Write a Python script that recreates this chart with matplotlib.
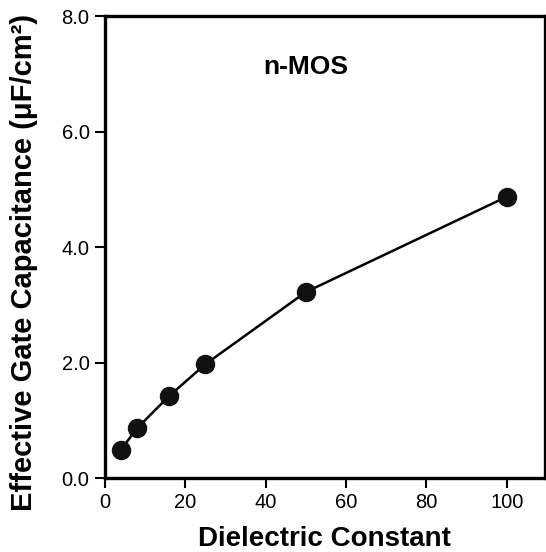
import matplotlib.pyplot as plt

# Dielectric constant vs effective gate capacitance (n-MOS)
dielectric_k = [4, 8, 16, 25, 50, 100]
capacitance = [0.49, 0.86, 1.42, 1.97, 3.22, 4.87]
x_ticks = [0, 20, 40, 60, 80, 100]
y_ticks = [0.0, 2.0, 4.0, 6.0, 8.0]

plt.rcParams['font.family'] = ['Liberation Sans', 'DejaVu Sans']

fig = plt.figure(figsize=(5.46, 5.52), dpi=100)
ax = fig.add_axes([0.192, 0.134, 0.806, 0.837])

ax.plot(dielectric_k, capacitance, color='black', linewidth=1.8,
        marker='o', markersize=13, markerfacecolor='#111111', markeredgecolor='#111111')

ax.set_xlim(0, 109.5)
ax.set_ylim(0, 8.0)
ax.set_xticks(x_ticks)
ax.set_xticklabels([str(t) for t in x_ticks])
ax.set_yticks(y_ticks)
ax.set_yticklabels([f"{t:.1f}" for t in y_ticks])

for s in ax.spines.values():
    s.set_linewidth(2.4)
ax.tick_params(axis='both', direction='out', length=7, width=1.5, labelsize=14.5, pad=4)

ax.set_xlabel("Dielectric Constant", fontsize=20, fontweight='bold', labelpad=10)
ax.set_ylabel("Effective Gate Capacitance (μF/cm²)", fontsize=21, fontweight='bold')
ax.yaxis.set_label_coords(-0.152, 0.467)

ax.text(50, 7.12, "n-MOS", fontsize=19, fontweight='bold', ha='center', va='center')

fig.savefig("out.png", dpi=100)
